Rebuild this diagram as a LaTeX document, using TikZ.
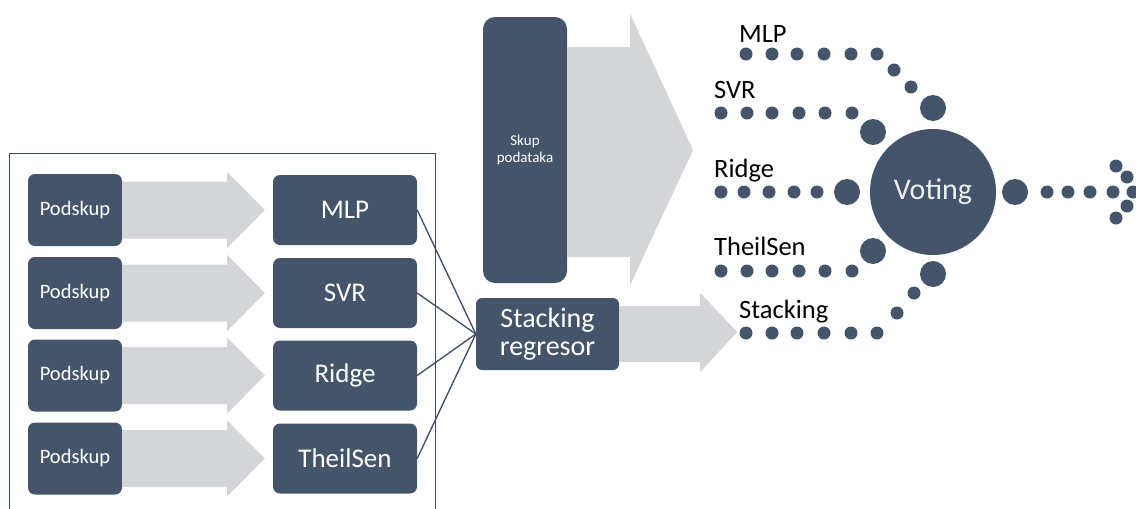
\documentclass[tikz,border=0pt]{standalone}
\usepackage{fontspec}
\setmainfont{Carlito}
\usetikzlibrary{calc}
\definecolor{boxc}{HTML}{44546A}
\definecolor{barc}{HTML}{D3D5D9}
\definecolor{framec}{HTML}{3B4A66}
\definecolor{vtext}{HTML}{EEEEEE}
\begin{document}
\begin{tikzpicture}[x=1pt,y=-1pt,
  darkbox/.style={fill=boxc,rounded corners=7pt,inner sep=0pt,text=white,align=center},
  podbox/.style={darkbox,minimum width=94pt,minimum height=72pt,font=\fontsize{20.5}{22}\selectfont},
  modbox/.style={darkbox,minimum width=144pt,minimum height=70pt,font=\fontsize{27}{29}\selectfont},
  bar/.style={fill=barc},
  link/.style={draw=framec,line width=1.3pt},
  lab/.style={anchor=base west,inner sep=0pt,font=\fontsize{26.5}{28}\selectfont,text=black},
  sdot/.style={fill=boxc},
]
\useasboundingbox (0,0) rectangle (1136,509);
% frame
\draw[framec,line width=1pt] (9,509) -- (9,153) -- (435,153) -- (435,509);
% left boxes
\foreach \i/\y/\t in {1/210/MLP,2/293/SVR,3/375.5/Ridge,4/458.5/TheilSen}{
  \node[podbox] (p\i) at (75,\y) {Podskup};
  \node[modbox] (m\i) at (345,\y) {\t};
  \fill[bar] ($(p\i.east)+(0,-28.5)$) -- ++(105,0) -- ++(0,-9.5)
     -- ($(m\i.west)+(-8,0)$) -- ($(p\i.east)+(105,38)$) -- ++(0,-9.5) -- ($(p\i.east)+(0,28.5)$) -- cycle;
}
% skup podataka
\node[darkbox,rounded corners=12pt,minimum width=84pt,minimum height=266pt,font=\fontsize{15}{16.5}\selectfont] (skup) at (525,150) {Skup\\podataka};
\fill[bar] ($(skup.east)+(0,-103)$) -- ++(63,0) -- ++(0,-33) -- (693,150)
   -- ($(skup.east)+(63,135)$) -- ++(0,-28) -- ($(skup.east)+(0,107)$) -- cycle;
% stacking regresor
\node[darkbox,rounded corners=6pt,minimum width=143pt,minimum height=72pt,font=\fontsize{28}{28}\selectfont] (st) at (547.5,334) {Stacking\\regresor};
\fill[bar] ($(st.east)+(0,-28)$) -- ++(81,0) -- ++(0,-13) -- ($(st.east)+(118,-2)$)
   -- ($(st.east)+(81,38)$) -- ++(0,-10) -- ($(st.east)+(0,28)$) -- cycle;
% links
\foreach \i in {1,...,4}{ \draw[link] (m\i.east) -- (st.west); }
% voting
\node[circle,fill=boxc,minimum size=126pt,inner sep=0pt,text=vtext,font=\fontsize{30}{32}\selectfont] (vote) at (933,192) {Voting};
% labels
\node[lab] (lmlp) at (739,42) {MLP};
\node[lab] (lsvr) at (714,98) {SVR};
\node[lab] (lridge) at (714,177) {Ridge};
\node[lab] (lts) at (714,255) {TheilSen};
\node[lab] (lst) at (739,318) {Stacking};
% dots
\foreach \x in {746,772,797,824,851,877}{ \fill[sdot] (\x,54) circle (6.5); \fill[sdot] (\x,333) circle (6.5); }
\foreach \x in {721,747,772,799,825,852}{ \fill[sdot] (\x,113) circle (6.5); \fill[sdot] (\x,271) circle (6.5); }
\foreach \x in {721,744,769,794,817}{ \fill[sdot] (\x,192) circle (6.5); }
\fill[sdot] (894,70) circle (6.5);
\fill[sdot] (911,87) circle (6.5);
\fill[sdot] (933,108) circle (13);
\fill[sdot] (873,132) circle (13);
\fill[sdot] (847,192) circle (13);
\fill[sdot] (873,251) circle (13);
\fill[sdot] (933,274) circle (13);
\fill[sdot] (914,293) circle (6.5);
\fill[sdot] (897,313) circle (6.5);
% output
\fill[sdot] (1015,192) circle (13);
\foreach \x in {1047,1068,1090,1113,1133}{ \fill[sdot] (\x,192) circle (6.5); }
\fill[sdot] (1116,166) circle (6.5);
\fill[sdot] (1127,177) circle (6.5);
\fill[sdot] (1127,206) circle (6.5);
\fill[sdot] (1116,218) circle (6.5);
\end{tikzpicture}
\end{document}
